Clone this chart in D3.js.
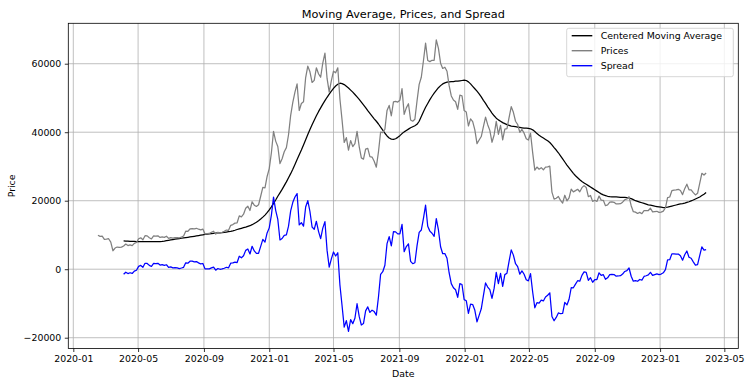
<!DOCTYPE html>
<html><head><meta charset="utf-8">
<script src="https://cdn.jsdelivr.net/npm/d3@7"></script>
<style>body{margin:0;background:#fff;} svg{display:block;font-family:"DejaVu Sans",sans-serif;}</style>
</head><body><svg id="c" width="752" height="387"></svg>
<script>
const startDate = "2020-02-16";
const stepDays = 4;
const maStartIndex = 12;   // moving average & spread begin at 2020-04-04
const prices = [
9900,9600,9650,8700,8760,8900,7910,5390,6190,6480,6370,6440,
6780,7340,6910,7120,6880,7550,7790,8900,9160,8600,9790,9730,9170,8840,9700,9670,9760,9280,9430,9300,9630,9010,
9230,9070,9230,9240,9150,9390,9700,11110,11070,11750,11880,11770,11950,11680,11470,11710,10250,10370,10440,10790,
11080,10240,10780,10620,10790,11060,11430,11360,12800,13030,13460,13550,15570,15300,16070,17800,18400,17150,19700,
18700,18320,18800,21300,23900,23730,27080,29370,34000,40250,37400,35830,30830,32260,34300,35510,39260,44920,48720,
51680,54090,46340,48380,48880,55960,59300,57650,54530,55140,58800,57060,56050,60200,63110,55700,51700,55030,57830,
57360,58800,49700,43540,37000,38400,34770,37570,35800,36690,40220,35820,32510,32130,35040,35290,32880,32740,31530,
29790,34290,40010,39870,40870,46370,47830,44800,48870,48990,48810,49330,52700,45200,47100,48310,43580,43210,43790,
49110,53970,56040,60860,65990,60930,60620,61000,61000,66970,64460,60160,58620,58960,57800,53600,50580,49400,48900,
46680,50800,50640,46310,45900,41820,43900,43080,40700,36650,37710,38740,41600,44390,42200,40530,37070,39200,43190,
39400,41980,37790,40920,41050,44330,47450,45810,43200,42250,39940,40800,39720,38120,37710,39700,34060,28940,29830,
29200,29650,29030,29800,29900,30110,22490,20450,20720,21230,20100,19300,21600,19970,20830,23390,22580,22950,23340,
22610,23810,24400,23870,21170,21530,19800,20130,19790,21360,20180,20110,18540,18800,19590,19630,19530,19060,19070,
19120,19570,20290,20500,21150,18540,16800,16670,16280,16600,16210,17090,17090,17130,17800,16740,16830,16920,16600,
16680,16950,17940,20880,21080,22920,23080,23140,23330,22960,21790,23520,24830,23190,23150,22350,21700,22160,25050,
28000,27490,28100];
const movingAverage = [
8260,8220,8180,8150,8120,8100,8080,8070,8060,8050,8050,8040,8040,8030,8030,8030,8040,8060,8100,8200,8330,8450,
8560,8660,8760,8850,8950,9040,9140,9230,9320,9420,9520,9620,9720,9820,9930,10040,10150,10250,10330,10400,10460,
10520,10580,10640,10700,10780,10860,10950,11050,11200,11380,11600,11780,11950,12120,12300,12500,12700,13000,13350,
13700,14150,14650,15200,15800,16500,17300,18200,19200,20200,21300,22300,23300,24400,25500,26700,27900,29200,30600,
32000,33400,34800,36300,37800,39300,40800,42200,43500,44800,46000,47100,48200,49200,50200,51100,52000,52800,53500,
54000,54300,54200,53900,53400,52900,52300,51700,51000,50300,49600,48800,48000,47200,46300,45500,44700,43900,43200,
42400,41500,40600,39700,38900,38300,38000,37900,38100,38500,39000,39600,40100,40500,40900,41300,41600,41900,42300,
43200,44600,46000,47300,48400,49500,50500,51400,52200,53000,53600,54100,54400,54600,54700,54800,54800,54900,54900,
55000,55100,55200,55100,54700,54100,53400,52700,52000,51200,50300,49300,48400,47400,46500,45600,44800,44100,43600,
43200,42800,42500,42200,42000,41800,41700,41600,41500,41400,41300,41200,41200,41100,41000,40700,40200,39600,39100,
38700,38300,37900,37500,37000,36300,35500,34800,34000,33100,32200,31300,30400,29600,28800,28000,27300,26700,26100,
25600,25200,24800,24400,24000,23600,23200,22800,22400,22000,21700,21500,21300,21200,21150,21100,21100,21050,21000,
21000,20950,20900,20800,20600,20300,20000,19800,19600,19400,19200,19000,18800,18700,18550,18400,18300,18200,18100,
18000,18050,18150,18300,18450,18600,18750,18900,19050,19150,19300,19500,19700,19950,20200,20500,20800,21100,21500,
21900,22400];
const spread = [
-1480,-880,-1270,-1030,-1240,-550,-290,830,1100,550,1740,1690,1130,810,1670,1640,1720,1220,1330,1100,1300,560,
670,410,470,390,200,350,560,1880,1750,2330,2360,2150,2230,1860,1540,1670,100,120,110,390,620,
-280,200,-20,90,280,570,410,1750,1830,2080,1950,3790,3350,3950,5500,5900,4450,6700,5350,
4620,4650,6650,8700,7930,10580,12070,15800,21050,17200,14530,8530,8960,9900,10010,12560,17020,19520,21080,
22090,12940,13580,12580,18160,20000,16850,12330,11640,14000,11060,8950,12000,13910,5500,600,3030,5030,3860,
4800,-4600,-10660,-16900,-15000,-18130,-14730,-15900,-14310,-10080,-13780,-16290,-15870,-12160,-11010,-12620,-11960,-12370,-13410,
-8110,-1490,-730,1170,7470,9530,6800,10970,10890,10310,10330,13100,5100,6600,7410,2280,1610,1890,6810,
10770,11440,14860,18690,12530,11120,10500,9600,14770,11460,6560,4520,4560,3200,-1100,-4220,-5400,-6000,-8220,
-4200,-4460,-8890,-9200,-12880,-10200,-10320,-12000,-15350,-13490,-11560,-7700,-4010,-5200,-5970,-8530,-5600,-910,-4200,
-1220,-5010,-1580,-1150,2330,5650,4110,1600,750,-1460,-500,-1480,-3080,-3390,-1300,-6640,-11260,-9770,-9900,
-9050,-9270,-8100,-7600,-6890,-13810,-15050,-14080,-12770,-13000,-12900,-9700,-10430,-8770,-5410,-5420,-4350,-3360,-3490,
-1790,-800,-930,-3230,-2470,-3800,-3070,-3010,-1040,-1820,-1590,-2960,-2500,-1610,-1520,-1570,-2040,-1980,-1880,
-1430,-660,-400,350,-2060,-3500,-3330,-3520,-3000,-3190,-2110,-1910,-1670,-900,-1810,-1570,-1380,-1600,-1420,
-1050,-110,2730,2780,4470,4480,4390,4430,3910,2640,4220,5330,3490,3200,2150,1200,1360,3950,6500,5590,
5700];
const seriesNames = ["Centered Moving Average", "Prices", "Spread"];
const yTickValues = [-20000, 0, 20000, 40000, 60000];

// ---- layout ----
const W = 752, H = 387;
const L = 68.3, R = 738.3, T = 23.3, B = 348.5;
const svg = d3.select("#c");
const t0 = new Date(startDate + "T00:00:00Z");
const dateAt = i => d3.utcDay.offset(t0, i * stepDays);

const x = d3.scaleUtc()
  .domain([new Date(Date.UTC(2019, 11, 22, 16)), new Date(Date.UTC(2023, 4, 27, 2))])
  .range([L, R]);
const y = d3.scaleLinear().domain([-23150, 71800]).range([B, T]);

const xTicks = d3.utcMonth.every(4).range(new Date(Date.UTC(2020,0,1)), new Date(Date.UTC(2023,5,1)));
const fmtX = d3.utcFormat("%Y-%m");
const fmtY = d => d < 0 ? "\u2212" + Math.abs(d) : String(d);

// grid
const grid = svg.append("g").attr("stroke", "#b0b0b0").attr("stroke-width", 0.8);
xTicks.forEach(t => grid.append("line").attr("x1", x(t)).attr("x2", x(t)).attr("y1", T).attr("y2", B));
yTickValues.forEach(v => grid.append("line").attr("x1", L).attr("x2", R).attr("y1", y(v)).attr("y2", y(v)));

// lines
const priceData = prices.map((v, i) => [dateAt(i), v]);
const maData = movingAverage.map((v, i) => [dateAt(i + maStartIndex), v]);
const spreadData = spread.map((v, i) => [dateAt(i + maStartIndex), v]);
const line = d3.line().x(d => x(d[0])).y(d => y(d[1]));
const colors = ["#000000", "#808080", "#0000ff"];
[maData, priceData, spreadData].forEach((data, k) => {
  svg.append("path").datum(data).attr("d", line).attr("fill", "none")
    .attr("stroke", colors[k]).attr("stroke-width", 1.25).attr("stroke-linejoin", "round");
});

// axes (via scales)
const xAxis = d3.axisBottom(x).tickValues(xTicks).tickFormat(fmtX).tickSize(3.5).tickPadding(3.5);
const gx = svg.append("g").attr("transform", `translate(0,${B})`).call(xAxis);
gx.select(".domain").remove();
gx.selectAll("text").attr("font-size", 9.4).attr("font-family", "DejaVu Sans").attr("fill", "#000");
gx.selectAll("line").attr("stroke", "#000").attr("stroke-width", 0.8);

const yAxis = d3.axisLeft(y).tickValues(yTickValues).tickFormat(fmtY).tickSize(3.5).tickPadding(3.5);
const gy = svg.append("g").attr("transform", `translate(${L},0)`).call(yAxis);
gy.select(".domain").remove();
gy.selectAll("text").attr("font-size", 9.4).attr("font-family", "DejaVu Sans").attr("fill", "#000");
gy.selectAll("line").attr("stroke", "#000").attr("stroke-width", 0.8);

// spines
svg.append("rect").attr("x", L).attr("y", T).attr("width", R - L).attr("height", B - T)
  .attr("fill", "none").attr("stroke", "#000").attr("stroke-width", 0.8);

// title & labels
svg.append("text").attr("x", (L + R) / 2).attr("y", 17.7).attr("text-anchor", "middle")
  .attr("font-size", 11.3).attr("fill", "#000").text("Moving Average, Prices, and Spread");
svg.append("text").attr("x", (L + R) / 2).attr("y", 377).attr("text-anchor", "middle")
  .attr("font-size", 9.4).attr("fill", "#000").text("Date");
svg.append("text").attr("transform", `translate(15,${(T + B) / 2}) rotate(-90)`).attr("text-anchor", "middle")
  .attr("font-size", 9.4).attr("fill", "#000").text("Price");

// legend
const lg = svg.append("g");
lg.append("rect").attr("x", 566.7).attr("y", 28.3).attr("width", 166.6).attr("height", 48.4)
  .attr("rx", 2).attr("fill", "#fff").attr("fill-opacity", 0.8).attr("stroke", "#cccccc").attr("stroke-width", 0.8);
seriesNames.forEach((name, k) => {
  const yy = 35.7 + k * 15;
  lg.append("line").attr("x1", 571.7).attr("x2", 592.3).attr("y1", yy).attr("y2", yy)
    .attr("stroke", colors[k]).attr("stroke-width", 1.4);
  lg.append("text").attr("x", 600.7).attr("y", yy + 3.4).attr("font-size", 9.4).attr("fill", "#000").text(name);
});
</script></body></html>
